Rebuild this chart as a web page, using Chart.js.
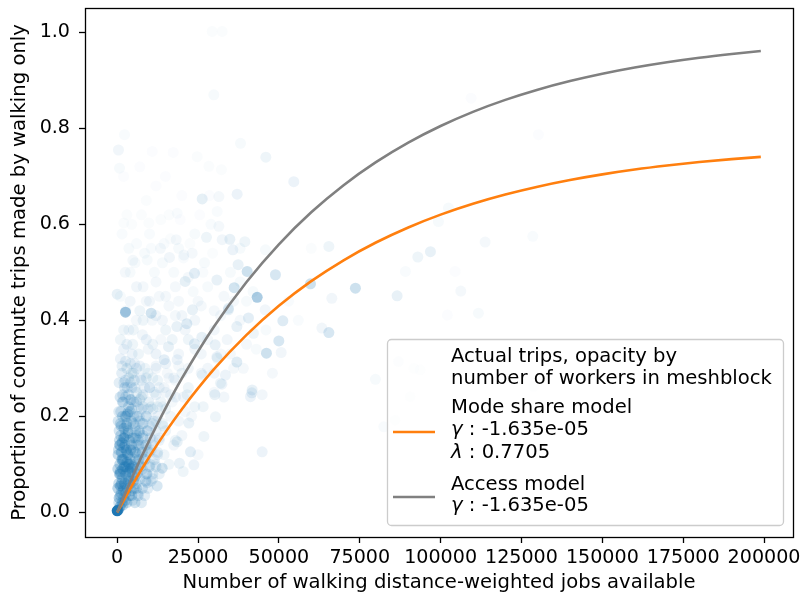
<!DOCTYPE html>
<html>
<head>
<meta charset="utf-8">
<script src="https://cdn.jsdelivr.net/npm/chart.js@4.4.0/dist/chart.umd.min.js"></script>
<style>
  html, body { margin: 0; padding: 0; background: #fff; }
  #chart { display: block; }
</style>
</head>
<body>
<canvas id="chart" width="803" height="601"></canvas>
<script>
// meshblocks: jobs within walking distance, share walking, workers (drives opacity)
const jobsAvailable = [
  0, 300, 900, 1500, 600, 2500, 500, 1200, 2000, 3100,
  1500, 2600, 4000, 5200, 800, 1900, 3300, 4500, 6000, 7100,
  2400, 3800, 5000, 6300, 1100, 400, 2900, 4400, 5700, 7500,
  8400, 1600, 3500, 5100, 6800, 900, 2300, 4100, 6000, 8000,
  9300, 10500, 9000, 11200, 7200, 3000, 1400, 5400, 300, 600,
  2000, 4800, 6600, 8600, 10000, 12500, 13000, 14200, 11800, 3600,
  1000, 7800, 9600, 12000, 15000, 16500, 5900, 2700, 10800, 13500,
  200, 700, 1800, 4700, 6500, 3900, 2200, 5600, 1300, 3000,
  4900, 6900, 2100, 8100, 3200, 4300, 1700, 7000, 9500, 500,
  5300, 2600, 1000, 2300, 3500, 4600, 1700, 2800, 3600, 4200,
  1500, 2000, 3400, 5500, 6500, 1200, 2500, 4000, 700, 3800,
  5800, 7800, 4120, 13910, 12360, 9270, 19270, 20400, 23700, 22670,
  18550, 22160, 26790, 26580, 30390, 21640, 30190, 31940, 41730, 41220,
  44820, 33480, 26280, 30910, 18550, 15860, 18450, 14530, 23900, 26180,
  21530, 23280, 10510, 21020, 30820, 34400, 30820, 32360, 41640, 37000,
  30290, 37000, 34400, 40590, 42130, 45750, 50700, 63280, 66360, 36170,
  44820, 46150, 51220, 49980, 65440, 43280, 59760, 73660, 86550, 40190,
  48930, 2570, 400, 0, 45960, 54600, 37090, 26280, 29880, 29370,
  32460, 2270, 730, 38130, 65440, 96850, 92950, 34840, 32460, 35760,
  39470, 37400, 23900, 31430, 27610, 16170, 4850, 3620, 18240, 9270,
  13390, 20610, 23180, 18550, 24730, 28350, 14930, 10820, 17310, 32240,
  9800, 2070, 31430, 30910, 45840, 89120, 109430, 130230, 102420, 99320,
  113760, 128500, 104480, 106240, 102100, 111690, 86950, 93660, 128700, 90570,
  85930, 91700, 79840, 82440, 17500, 19000, 20500, 22000, 18000, 15000,
  12000, 8000, 4000, 1000, 6000, 10000, 14000, 21000, 24000, 26000,
  28000, 25000, 22000, 30000, 33000, 27000, 19000, 16000, 9000, 3000,
  12000, 20000, 2000, 7000, 24000, 29000, 35000, 38000, 32000, 23000,
  18000, 13000, 25000, 30000, 36000, 40000, 42000, 38000, 11000, 9000,
  500, 1000, 1500, 2000, 2500, 3000, 3500, 4000, 4500, 5000,
  600, 1100, 1600, 2100, 2600, 3100, 3600, 4100, 4600, 5100,
  5500, 6000, 6500, 7000, 7500, 8000, 8500, 9000, 9500, 10000,
  10500, 11000, 11500, 12000, 13000, 14000, 15000, 16000, 17000, 12500,
  200, 300, 800, 1300, 1800, 2700, 3300, 4400, 5900, 6800,
  7600, 8800, 10200, 11000, 14500, 16000, 17500, 19000, 20000, 21000,
  1000, 2000, 3000, 4000, 5000, 6000, 7000, 8000, 9000, 10000,
  11000, 12000, 13000, 14000, 15000, 16000, 17000, 18000, 19000, 20000,
  22000, 24000, 26000, 28000, 30000, 32000, 34000, 36000, 38000, 40000,
  2500, 5500, 8500, 11500, 14500, 17500, 20500, 23500, 26500, 29500,
  1500, 4500, 7500, 10500, 13500, 16500, 19500, 22500, 25500, 28500,
  6000, 9000, 12000, 15000, 18000, 20000, 22000, 24000, 26000, 28000,
  30000, 33000, 35000, 39000, 43000, 46000, 48000, 53000, 56000, 60000,
  3000, 5500, 7500,
  1000, 4500, 6500, 8500,
  2000, 6000, 7800, 9500,
  3500, 5000, 8800, 10500,
  1000, 6200, 9200, 11000,
  2700, 4800, 7300, 10000, 12000,
  1500, 4000, 6700, 8700, 11500,
  3000, 5600, 7800, 9800, 12500,
  800, 4400, 6600, 9000, 11000,
  2200, 5600, 8000, 10200, 13000,
  3400, 6800, 9400, 12000,
  1000, 5000, 7800, 10800, 14000,
  2800, 6200, 9000, 12500,
  4500, 7500, 11000, 15000,
  1800, 6000, 9800, 13500,
  3500, 8000, 12000, 16500,
  5500, 10000, 14500,
  2500, 7500, 12500, 18000,
  4500, 9500, 15500,
  1500, 7000, 12000, 19000
];
const walkShare = [
  0.003, 0.005, 0.012, 0.02, 0.03, 0.025, 0.02, 0.04, 0.03, 0.05,
  0.07, 0.08, 0.06, 0.05, 0.10, 0.11, 0.12, 0.10, 0.09, 0.07,
  0.14, 0.15, 0.13, 0.12, 0.16, 0.13, 0.18, 0.19, 0.17, 0.14,
  0.11, 0.20, 0.22, 0.23, 0.20, 0.24, 0.26, 0.27, 0.25, 0.22,
  0.17, 0.13, 0.08, 0.19, 0.28, 0.30, 0.29, 0.31, 0.19, 0.27,
  0.34, 0.35, 0.33, 0.30, 0.26, 0.22, 0.15, 0.18, 0.10, 0.38,
  0.36, 0.37, 0.34, 0.30, 0.25, 0.20, 0.40, 0.42, 0.40, 0.36,
  0.05, 0.08, 0.015, 0.025, 0.04, 0.085, 0.095, 0.075, 0.125, 0.105,
  0.155, 0.165, 0.175, 0.185, 0.205, 0.235, 0.245, 0.235, 0.215, 0.21,
  0.275, 0.315, 0.055, 0.06, 0.07, 0.08, 0.09, 0.13, 0.10, 0.13,
  0.145, 0.155, 0.165, 0.11, 0.15, 0.18, 0.20, 0.21, 0.15, 0.035,
  0.14, 0.09, 0.092, 0.092, 0.055, 0.062, 0.102, 0.085, 0.099, 0.126,
  0.147, 0.186, 0.158, 0.220, 0.199, 0.245, 0.245, 0.269, 0.255, 0.241,
  0.245, 0.286, 0.286, 0.321, 0.318, 0.345, 0.387, 0.318, 0.351, 0.365,
  0.393, 0.422, 0.415, 0.481, 0.484, 0.425, 0.324, 0.267, 0.249, 0.313,
  0.349, 0.387, 0.422, 0.405, 0.373, 0.422, 0.333, 0.384, 0.446, 0.468,
  0.126, 0.3315, 0.399, 0.357, 0.3745, 0.448, 0.476, 0.467, 0.451, 0.502,
  0.495, 0.417, 0.755, 0.4546, 0.740, 0.689, 0.663, 0.653, 0.870, 1.002,
  1.002, 0.787, 0.717, 0.769, 0.554, 0.543, 0.532, 0.569, 0.568, 0.547,
  0.564, 0.516, 0.498, 0.658, 0.573, 0.531, 0.525, 0.550, 0.568, 0.526,
  0.550, 0.536, 0.540, 0.623, 0.741, 0.721, 0.700, 0.752, 0.750, 0.714,
  0.603, 0.603, 0.596, 0.627, 0.547, 0.502, 0.863, 0.787, 0.634, 0.606,
  0.563, 0.575, 0.502, 0.461, 0.411, 0.415, 0.314, 0.297, 0.262, 0.241,
  0.192, 0.300, 0.277, 0.178, 0.28, 0.33, 0.24, 0.30, 0.41, 0.45,
  0.48, 0.47, 0.50, 0.45, 0.56, 0.58, 0.52, 0.38, 0.34, 0.29,
  0.36, 0.44, 0.49, 0.42, 0.45, 0.52, 0.55, 0.62, 0.65, 0.62,
  0.68, 0.66, 0.70, 0.72, 0.58, 0.60, 0.50, 0.40, 0.33, 0.20,
  0.15, 0.08, 0.12, 0.25, 0.30, 0.35, 0.46, 0.55, 0.28, 0.44,
  0.06, 0.085, 0.11, 0.135, 0.16, 0.185, 0.21, 0.235, 0.26, 0.29,
  0.17, 0.21, 0.23, 0.27, 0.24, 0.26, 0.28, 0.31, 0.33, 0.20,
  0.18, 0.16, 0.22, 0.19, 0.24, 0.16, 0.26, 0.20, 0.13, 0.18,
  0.22, 0.15, 0.25, 0.19, 0.26, 0.22, 0.17, 0.28, 0.23, 0.12,
  0.09, 0.12, 0.14, 0.06, 0.045, 0.04, 0.09, 0.045, 0.06, 0.10,
  0.12, 0.14, 0.10, 0.07, 0.12, 0.10, 0.14, 0.19, 0.16, 0.21,
  0.32, 0.38, 0.35, 0.44, 0.38, 0.47, 0.42, 0.40, 0.36, 0.44,
  0.35, 0.41, 0.45, 0.40, 0.38, 0.43, 0.36, 0.47, 0.44, 0.41,
  0.36, 0.40, 0.43, 0.47, 0.38, 0.41, 0.36, 0.44, 0.48, 0.44,
  0.50, 0.52, 0.54, 0.50, 0.56, 0.50, 0.53, 0.46, 0.50, 0.54,
  0.58, 0.60, 0.62, 0.55, 0.61, 0.57, 0.61, 0.56, 0.62, 0.66,
  0.30, 0.28, 0.33, 0.31, 0.24, 0.29, 0.26, 0.22, 0.33, 0.30,
  0.29, 0.24, 0.33, 0.30, 0.34, 0.38, 0.29, 0.44, 0.40, 0.55,
  0.02, 0.02, 0.02,
  0.035, 0.035, 0.035, 0.035,
  0.05, 0.05, 0.05, 0.05,
  0.065, 0.065, 0.065, 0.065,
  0.08, 0.08, 0.08, 0.08,
  0.095, 0.095, 0.095, 0.095, 0.095,
  0.11, 0.11, 0.11, 0.11, 0.11,
  0.125, 0.125, 0.125, 0.125, 0.125,
  0.14, 0.14, 0.14, 0.14, 0.14,
  0.155, 0.155, 0.155, 0.155, 0.155,
  0.17, 0.17, 0.17, 0.17,
  0.185, 0.185, 0.185, 0.185, 0.185,
  0.20, 0.20, 0.20, 0.20,
  0.215, 0.215, 0.215, 0.215,
  0.23, 0.23, 0.23, 0.23,
  0.245, 0.245, 0.245, 0.245,
  0.26, 0.26, 0.26,
  0.275, 0.275, 0.275, 0.275,
  0.29, 0.29, 0.29,
  0.305, 0.305, 0.305, 0.305
];
const workers = [
  450, 300, 150, 120, 140, 100, 80, 100, 90, 110,
  120, 130, 90, 70, 110, 140, 130, 100, 80, 60,
  120, 110, 90, 70, 100, 90, 100, 80, 70, 60,
  50, 90, 80, 60, 50, 70, 70, 50, 45, 40,
  45, 40, 50, 35, 35, 45, 50, 35, 70, 50,
  35, 30, 30, 30, 35, 30, 35, 30, 35, 25,
  30, 25, 25, 25, 25, 25, 20, 20, 20, 20,
  120, 130, 100, 60, 60, 120, 140, 90, 130, 140,
  100, 70, 110, 50, 90, 70, 60, 45, 40, 60,
  45, 40, 140, 150, 140, 110, 150, 140, 150, 120,
  130, 120, 110, 90, 70, 100, 90, 70, 90, 100,
  60, 50, 150, 80, 70, 60, 40, 30, 35, 50,
  40, 40, 30, 30, 30, 30, 40, 30, 40, 35,
  25, 35, 30, 30, 35, 40, 40, 50, 50, 40,
  60, 40, 80, 45, 40, 40, 35, 35, 40, 60,
  40, 40, 40, 50, 30, 25, 25, 25, 25, 80,
  35, 90, 60, 70, 70, 150, 90, 90, 40, 90,
  70, 170, 25, 40, 30, 35, 35, 45, 15, 10,
  10, 12, 15, 15, 30, 40, 30, 40, 25, 35,
  30, 40, 50, 20, 30, 25, 20, 15, 20, 15,
  20, 20, 20, 12, 10, 10, 8, 8, 8, 10,
  10, 10, 20, 12, 15, 12, 8, 8, 15, 15,
  20, 12, 8, 20, 8, 15, 25, 20, 15, 15,
  15, 15, 15, 12, 25, 25, 25, 25, 20, 20,
  20, 20, 15, 15, 12, 12, 15, 25, 25, 25,
  20, 20, 20, 20, 20, 15, 15, 10, 10, 10,
  8, 8, 8, 8, 15, 12, 15, 20, 20, 20,
  30, 40, 20, 20, 20, 20, 15, 15, 30, 20,
  100, 110, 110, 100, 90, 80, 70, 60, 50, 45,
  70, 70, 60, 50, 60, 55, 45, 40, 35, 60,
  60, 60, 45, 50, 40, 50, 35, 40, 45, 35,
  30, 35, 30, 30, 25, 25, 30, 20, 20, 35,
  110, 100, 100, 110, 110, 100, 110, 90, 70, 60,
  50, 45, 40, 40, 30, 30, 25, 25, 25, 20,
  35, 30, 35, 25, 30, 25, 30, 30, 35, 25,
  30, 25, 20, 25, 30, 20, 30, 20, 20, 25,
  30, 25, 20, 15, 25, 20, 25, 20, 15, 15,
  20, 15, 15, 15, 12, 15, 12, 15, 12, 10,
  12, 10, 10, 12, 10, 10, 8, 10, 8, 8,
  40, 40, 35, 35, 35, 30, 30, 30, 25, 25,
  25, 25, 20, 20, 15, 15, 20, 12, 12, 10,
  90, 80, 60,
  100, 90, 70, 50,
  100, 90, 70, 50,
  110, 100, 70, 50,
  110, 100, 70, 50,
  110, 110, 90, 60, 45,
  110, 110, 90, 60, 45,
  110, 100, 80, 60, 40,
  100, 100, 80, 55, 40,
  100, 90, 70, 50, 35,
  90, 80, 55, 40,
  80, 80, 60, 45, 30,
  80, 70, 50, 35,
  70, 55, 40, 30,
  70, 55, 40, 30,
  60, 45, 35, 25,
  50, 35, 25,
  50, 40, 30, 20,
  45, 30, 20,
  40, 35, 25, 20
];

// fitted curves
const curveJobs = [0, 5000, 10000, 15000, 20000, 30000, 40000, 50000, 60000, 70000, 80000,
  90000, 100000, 110000, 120000, 130000, 140000, 150000, 160000, 170000, 180000, 190000, 199000];
const modeShareModel = [0, 0.0605, 0.1162, 0.1676, 0.2149, 0.2987, 0.3698, 0.4303, 0.4816, 0.5252, 0.5622,
  0.5936, 0.6203, 0.6430, 0.6622, 0.6785, 0.6924, 0.7042, 0.7142, 0.7226, 0.7299, 0.7360, 0.7407];
const accessModel = [0, 0.0785, 0.1508, 0.2175, 0.2789, 0.3877, 0.4800, 0.5585, 0.6251, 0.6816, 0.7296,
  0.7704, 0.8050, 0.8345, 0.8594, 0.8806, 0.8986, 0.9139, 0.9269, 0.9379, 0.9473, 0.9552, 0.9614];

const xTicks = [0, 25000, 50000, 75000, 100000, 125000, 150000, 175000, 200000];
const yTicks = [0, 0.2, 0.4, 0.6, 0.8, 1.0];

const FONT = "'DejaVu Sans', sans-serif";
const TICK_SIZE = 19.1;
const LABEL_SIZE = 19.6;
const maxWorkers = 400;

const scatterPts = jobsAvailable.map((x, i) => ({ x: x, y: walkShare[i] }));
const scatterColors = workers.map(w => 'rgba(31,119,180,' + Math.min(w / maxWorkers, 1) + ')');

const framePlugin = {
  id: 'frameAndLegend',
  afterDraw(chart) {
    const ctx = chart.ctx;
    const a = chart.chartArea;
    ctx.save();
    // spines
    ctx.strokeStyle = '#000';
    ctx.lineWidth = 1.3;
    ctx.strokeRect(Math.round(a.left) + 0.5, Math.round(a.top) + 0.5,
      Math.round(a.right - a.left), Math.round(a.bottom - a.top));

    // legend box, lower right
    const w = 396, h = 186;
    const bx = a.right - 10 - w, by = a.bottom - 12 - h;
    ctx.beginPath();
    ctx.roundRect(bx + 0.5, by + 0.5, w, h, 4);
    ctx.fillStyle = 'rgba(255,255,255,0.8)';
    ctx.fill();
    ctx.strokeStyle = '#cccccc';
    ctx.lineWidth = 1.3;
    ctx.stroke();

    const tx = bx + 64;
    ctx.fillStyle = '#000';
    ctx.textBaseline = 'alphabetic';
    ctx.textAlign = 'left';
    const reg = LABEL_SIZE + 'px ' + FONT;
    const ital = 'italic ' + LABEL_SIZE + 'px ' + FONT;
    const plain = (s, y) => { ctx.font = reg; ctx.fillText(s, tx, by + y); };
    const math = (sym, rest, y) => {
      ctx.font = ital; ctx.fillText(sym, tx, by + y);
      const sw = ctx.measureText(sym).width;
      ctx.font = reg; ctx.fillText(rest, tx + sw, by + y);
    };
    plain('Actual trips, opacity by', 23);
    plain('number of workers in meshblock', 45);
    plain('Mode share model', 74);
    math('\u03b3', ' : -1.635e-05', 96);
    math('\u03bb', ' : 0.7705', 119);
    plain('Access model', 151);
    math('\u03b3', ' : -1.635e-05', 172);

    ctx.lineWidth = 2.6;
    ctx.strokeStyle = '#ff7f0e';
    ctx.beginPath(); ctx.moveTo(bx + 6, by + 93); ctx.lineTo(bx + 48, by + 93); ctx.stroke();
    ctx.strokeStyle = '#808080';
    ctx.beginPath(); ctx.moveTo(bx + 6, by + 158); ctx.lineTo(bx + 48, by + 158); ctx.stroke();
    ctx.restore();
  }
};

const tickFont = { family: FONT, size: TICK_SIZE };
const labelFont = { family: FONT, size: LABEL_SIZE };

new Chart(document.getElementById('chart').getContext('2d'), {
  data: {
    datasets: [
      {
        type: 'line',
        label: 'Access model',
        data: curveJobs.map((x, i) => ({ x: x, y: accessModel[i] })),
        borderColor: '#808080',
        borderWidth: 2.6,
        pointRadius: 0,
        cubicInterpolationMode: 'monotone',
        order: 0
      },
      {
        type: 'line',
        label: 'Mode share model',
        data: curveJobs.map((x, i) => ({ x: x, y: modeShareModel[i] })),
        borderColor: '#ff7f0e',
        borderWidth: 2.6,
        pointRadius: 0,
        cubicInterpolationMode: 'monotone',
        order: 1
      },
      {
        type: 'scatter',
        label: 'Actual trips',
        data: scatterPts,
        pointBackgroundColor: scatterColors,
        pointBorderWidth: 0,
        pointRadius: 5.5,
        order: 2
      }
    ]
  },
  options: {
    responsive: false,
    animation: false,
    events: [],
    layout: { padding: { left: 0, right: 10, top: 8, bottom: 0 } },
    plugins: { legend: { display: false }, tooltip: { enabled: false } },
    scales: {
      x: {
        type: 'linear',
        min: -9950,
        max: 208950,
        afterBuildTicks: s => { s.ticks = xTicks.map(v => ({ value: v })); },
        afterFit: s => { s.height = 64; s.paddingLeft = 0; s.paddingRight = 0; },
        ticks: {
          color: '#000', font: tickFont, padding: 4, maxRotation: 0, autoSkip: false,
          callback: v => String(v)
        },
        grid: { display: true, drawOnChartArea: false, drawTicks: true, tickLength: 6, tickWidth: 1.3, tickColor: '#000' },
        border: { display: false },
        title: {
          display: true, text: 'Number of walking distance-weighted jobs available',
          color: '#000', font: labelFont, padding: { top: 0, bottom: 6 }
        }
      },
      y: {
        type: 'linear',
        min: -0.0515,
        max: 1.0509,
        afterBuildTicks: s => { s.ticks = yTicks.map(v => ({ value: v })); },
        afterFit: s => { s.width = 85; s.paddingTop = 0; s.paddingBottom = 0; },
        ticks: {
          color: '#000', font: tickFont, padding: 9,
          callback: v => v.toFixed(1)
        },
        grid: { display: true, drawOnChartArea: false, drawTicks: true, tickLength: 6, tickWidth: 1.3, tickColor: '#000' },
        border: { display: false },
        title: {
          display: true, text: 'Proportion of commute trips made by walking only',
          color: '#000', font: labelFont, padding: { top: 8, bottom: 0 }
        }
      }
    }
  },
  plugins: [framePlugin]
});
</script>
</body>
</html>
